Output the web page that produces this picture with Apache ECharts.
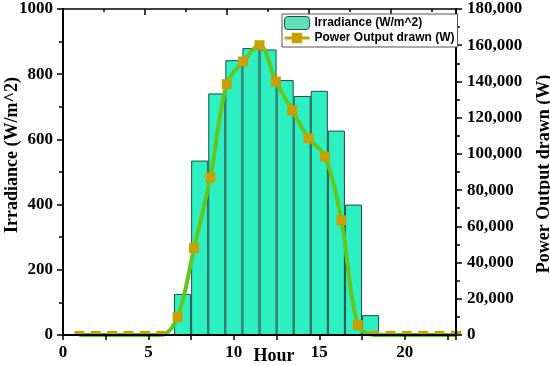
<!DOCTYPE html>
<html>
<head>
<meta charset="utf-8">
<script src="https://cdn.jsdelivr.net/npm/echarts@6/dist/echarts.min.js"></script>
<style>html,body{margin:0;padding:0;background:#fff}#c{width:550px;height:365px}</style>
</head>
<body>
<div id="c"></div>
<script>
// Irradiance bars (hour of day -> W/m^2)
const barHours = [7, 8, 9, 10, 11, 12, 13, 14, 15, 16, 17, 18];
const irradiance = [126, 535, 741, 843, 880, 876, 782, 733, 749, 627, 400, 61];
// Power output drawn (index 1..24 on top axis -> W)
const powerIndex = [1,2,3,4,5,6,7,8,9,10,11,12,13,14,15,16,17,18,19,20,21,22,23,24];
const powerW = [0,0,0,0,0,0,9900,48000,87000,138500,151000,160000,140000,124000,108600,98500,63300,5500,0,0,0,0,0,0];
const xTicks = [0, 5, 10, 15, 20];
const leftTicks = [0, 200, 400, 600, 800, 1000];
const rightTicks = [0, 20000, 40000, 60000, 80000, 100000, 120000, 140000, 160000, 180000];

const serif = 'Liberation Serif';
const tickFont = {fontFamily: serif, fontWeight: 'bold', fontSize: 17, color: '#000'};
const barColor = '#2cf0c2';
const lineColor = '#62c61c';
const markColor = '#c8a000';

const chart = echarts.init(document.getElementById('c'), null, {renderer: 'canvas'});

const barData = barHours.map((h, i) => [h, irradiance[i]]);
const powerData = powerIndex.map((k, i) => {
  const v = powerW[i];
  if (v === 0) return {value: [k, v], symbolSize: [10, 4], symbolOffset: [0, -2]};
  return {value: [k, v]};
});

chart.setOption({
  animation: false,
  backgroundColor: '#fff',
  grid: {left: 63, right: 94, top: 9, bottom: 30, containLabel: false},
  legend: {
    orient: 'vertical', left: 282, top: 14,
    padding: [2, 3, 3, 1], itemGap: 2, itemWidth: 25, itemHeight: 13,
    borderColor: '#555', borderWidth: 1, backgroundColor: '#fff',
    textStyle: {fontFamily: 'Liberation Sans', fontWeight: 'bold', fontSize: 12, color: '#000'},
    data: [
      {name: 'Irradiance (W/m^2)', itemStyle: {color: '#5ee0b8', borderColor: '#1f4f44', borderWidth: 1}},
      {name: 'Power Output drawn (W)', lineStyle: {color: markColor, width: 3}}
    ]
  },
  xAxis: [
    {
      type: 'value', position: 'bottom', min: 0, max: 23, interval: 5, z: 3,
      axisLine: {show: true, onZero: false, lineStyle: {color: '#000', width: 2}},
      axisTick: {show: true, length: 5, lineStyle: {color: '#000', width: 1.5}},
      minorTick: {show: true, splitNumber: 2, length: 5, lineStyle: {color: '#000', width: 1.5}},
      axisLabel: Object.assign({margin: 9,
        formatter: v => xTicks.indexOf(v) >= 0 ? String(v) : ''}, tickFont),
      splitLine: {show: false}, minorSplitLine: {show: false}
    },
    {
      type: 'value', position: 'top', min: 0, max: 24, interval: 5, z: 3,
      axisLine: {show: true, onZero: false, lineStyle: {color: '#000', width: 1.5}},
      axisTick: {show: true, inside: true, length: 6, lineStyle: {color: '#000', width: 1.5}},
      minorTick: {show: true, splitNumber: 2, length: 3, lineStyle: {color: '#000', width: 1.5}},
      axisLabel: {show: false},
      splitLine: {show: false}
    }
  ],
  yAxis: [
    {
      type: 'value', position: 'left', min: 0, max: 1000, interval: 200, z: 3,
      axisLine: {show: true, onZero: false, lineStyle: {color: '#000', width: 2}},
      axisTick: {show: true, length: 6, lineStyle: {color: '#000', width: 1.5}},
      minorTick: {show: true, splitNumber: 2, length: 4, lineStyle: {color: '#000', width: 1.5}},
      axisLabel: Object.assign({margin: 10,
        formatter: v => leftTicks.indexOf(v) >= 0 ? String(v) : ''}, tickFont),
      splitLine: {show: false}
    },
    {
      type: 'value', position: 'right', min: 0, max: 180000, interval: 20000, z: 3,
      axisLine: {show: true, onZero: false, lineStyle: {color: '#000', width: 2}},
      axisTick: {show: true, length: 6, lineStyle: {color: '#000', width: 1.5}},
      minorTick: {show: true, splitNumber: 2, length: 4, lineStyle: {color: '#000', width: 1.5}},
      axisLabel: Object.assign({margin: 11,
        formatter: v => rightTicks.indexOf(v) >= 0 ? v.toLocaleString('en-US') : ''}, tickFont),
      splitLine: {show: false}
    }
  ],
  series: [
    {
      name: 'Irradiance (W/m^2)', type: 'bar', xAxisIndex: 0, yAxisIndex: 0,
      barWidth: '100%', data: barData, z: 1,
      itemStyle: {color: barColor, borderColor: '#1f4f44', borderWidth: 1}
    },
    {
      name: 'Power Output drawn (W)', type: 'line', xAxisIndex: 1, yAxisIndex: 1,
      data: powerData, smooth: 0.35, symbol: 'rect', symbolSize: 10, z: 2,
      lineStyle: {color: lineColor, width: 4},
      itemStyle: {color: markColor}
    }
  ],
  graphic: [
    {type: 'text', x: 12, y: 155, rotation: Math.PI / 2,
      style: {text: 'Irradiance (W/m^2)', fontFamily: serif, fontWeight: 'bold', fontSize: 18,
        fill: '#000', align: 'center', verticalAlign: 'middle'}},
    {type: 'text', x: 544, y: 174, rotation: Math.PI / 2,
      style: {text: 'Power Output drawn (W)', fontFamily: serif, fontWeight: 'bold', fontSize: 18,
        fill: '#000', align: 'center', verticalAlign: 'middle'}},
    {type: 'text', x: 274, y: 356,
      style: {text: 'Hour', fontFamily: serif, fontWeight: 'bold', fontSize: 18,
        fill: '#000', align: 'center', verticalAlign: 'middle'}}
  ]
});
</script>
</body>
</html>
